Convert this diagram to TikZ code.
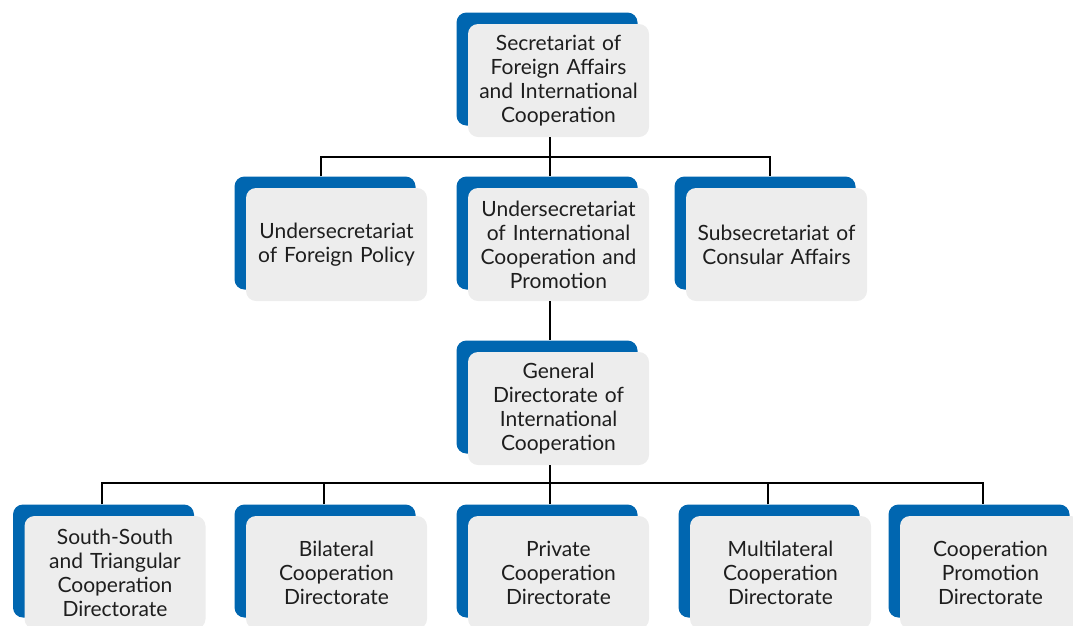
\documentclass[tikz,border=0pt]{standalone}
\usepackage{fontspec}
\setmainfont{Lato}
\usetikzlibrary{shadows}
\definecolor{boxblue}{RGB}{0,102,176}
\definecolor{boxgrey}{RGB}{237,237,237}
\definecolor{txt}{RGB}{30,30,30}
\tikzset{
  orgbox/.style={rectangle, rounded corners=10pt, fill=boxgrey, draw=none,
    minimum width=181pt, minimum height=113pt, text width=178pt, align=center,
    inner sep=0pt, font=\fontsize{21}{24}\selectfont, text=txt,
    general shadow={fill=boxblue, shadow xshift=-11.5pt, shadow yshift=11.5pt}},
  conn/.style={draw=black, line width=1.1pt}
}
\begin{document}
\begin{tikzpicture}[x=1pt,y=-1pt]
\useasboundingbox (0,0) rectangle (1073,625);
% top
\node[orgbox] (sec) at (558.5,80.5) {Secretariat of\\Foreign Affairs\\and International\\Cooperation};
% row 2
\node[orgbox] (und1) at (336.5,244.5) {Undersecretariat\\of Foreign Policy};
\node[orgbox] (und2) at (558.5,244.5) {Undersecretariat\\of International\\Cooperation and\\Promotion};
\node[orgbox] (sub3) at (776.5,244.5) {Subsecretariat of\\Consular Affairs};
% general directorate
\node[orgbox] (gen) at (558.5,408.5) {General\\Directorate of\\International\\Cooperation};
% bottom row
\node[orgbox] (dir1) at (115,572.5) {South-South\\and Triangular\\Cooperation\\Directorate};
\node[orgbox] (dir2) at (336.5,572.5) {Bilateral\\Cooperation\\Directorate};
\node[orgbox] (dir3) at (558.5,572.5) {Private\\Cooperation\\Directorate};
\node[orgbox] (dir4) at (780.5,572.5) {Multilateral\\Cooperation\\Directorate};
\node[orgbox] (dir5) at (990.5,572.5) {Cooperation\\Promotion\\Directorate};
% bus coordinates
\coordinate (busA) at (550,157);
\coordinate (busB) at (550,483);
% connectors top -> row 2
\draw[conn] ([xshift=-8.5pt]sec.south) -- ([xshift=-8.5pt,yshift=11.5pt]und2.north);
\draw[conn] ([xshift=-15.5pt,yshift=11.5pt]und1.north) |- (busA) -| ([xshift=-6.5pt,yshift=11.5pt]sub3.north);
% row 2 -> general
\draw[conn] ([xshift=-8.5pt]und2.south) -- ([xshift=-8.5pt,yshift=11.5pt]gen.north);
% general -> bottom row
\draw[conn] ([xshift=-8.5pt]gen.south) -- ([xshift=-8.5pt,yshift=11.5pt]dir3.north);
\draw[conn] ([xshift=-13pt,yshift=11.5pt]dir1.north) |- (busB) -| ([xshift=-7.5pt,yshift=11.5pt]dir5.north);
\draw[conn] ([xshift=-12.5pt,yshift=11.5pt]dir2.north) -- ([xshift=-12.5pt]dir2.north |- busB);
\draw[conn] ([xshift=-12.5pt,yshift=11.5pt]dir4.north) -- ([xshift=-12.5pt]dir4.north |- busB);
\end{tikzpicture}
\end{document}
